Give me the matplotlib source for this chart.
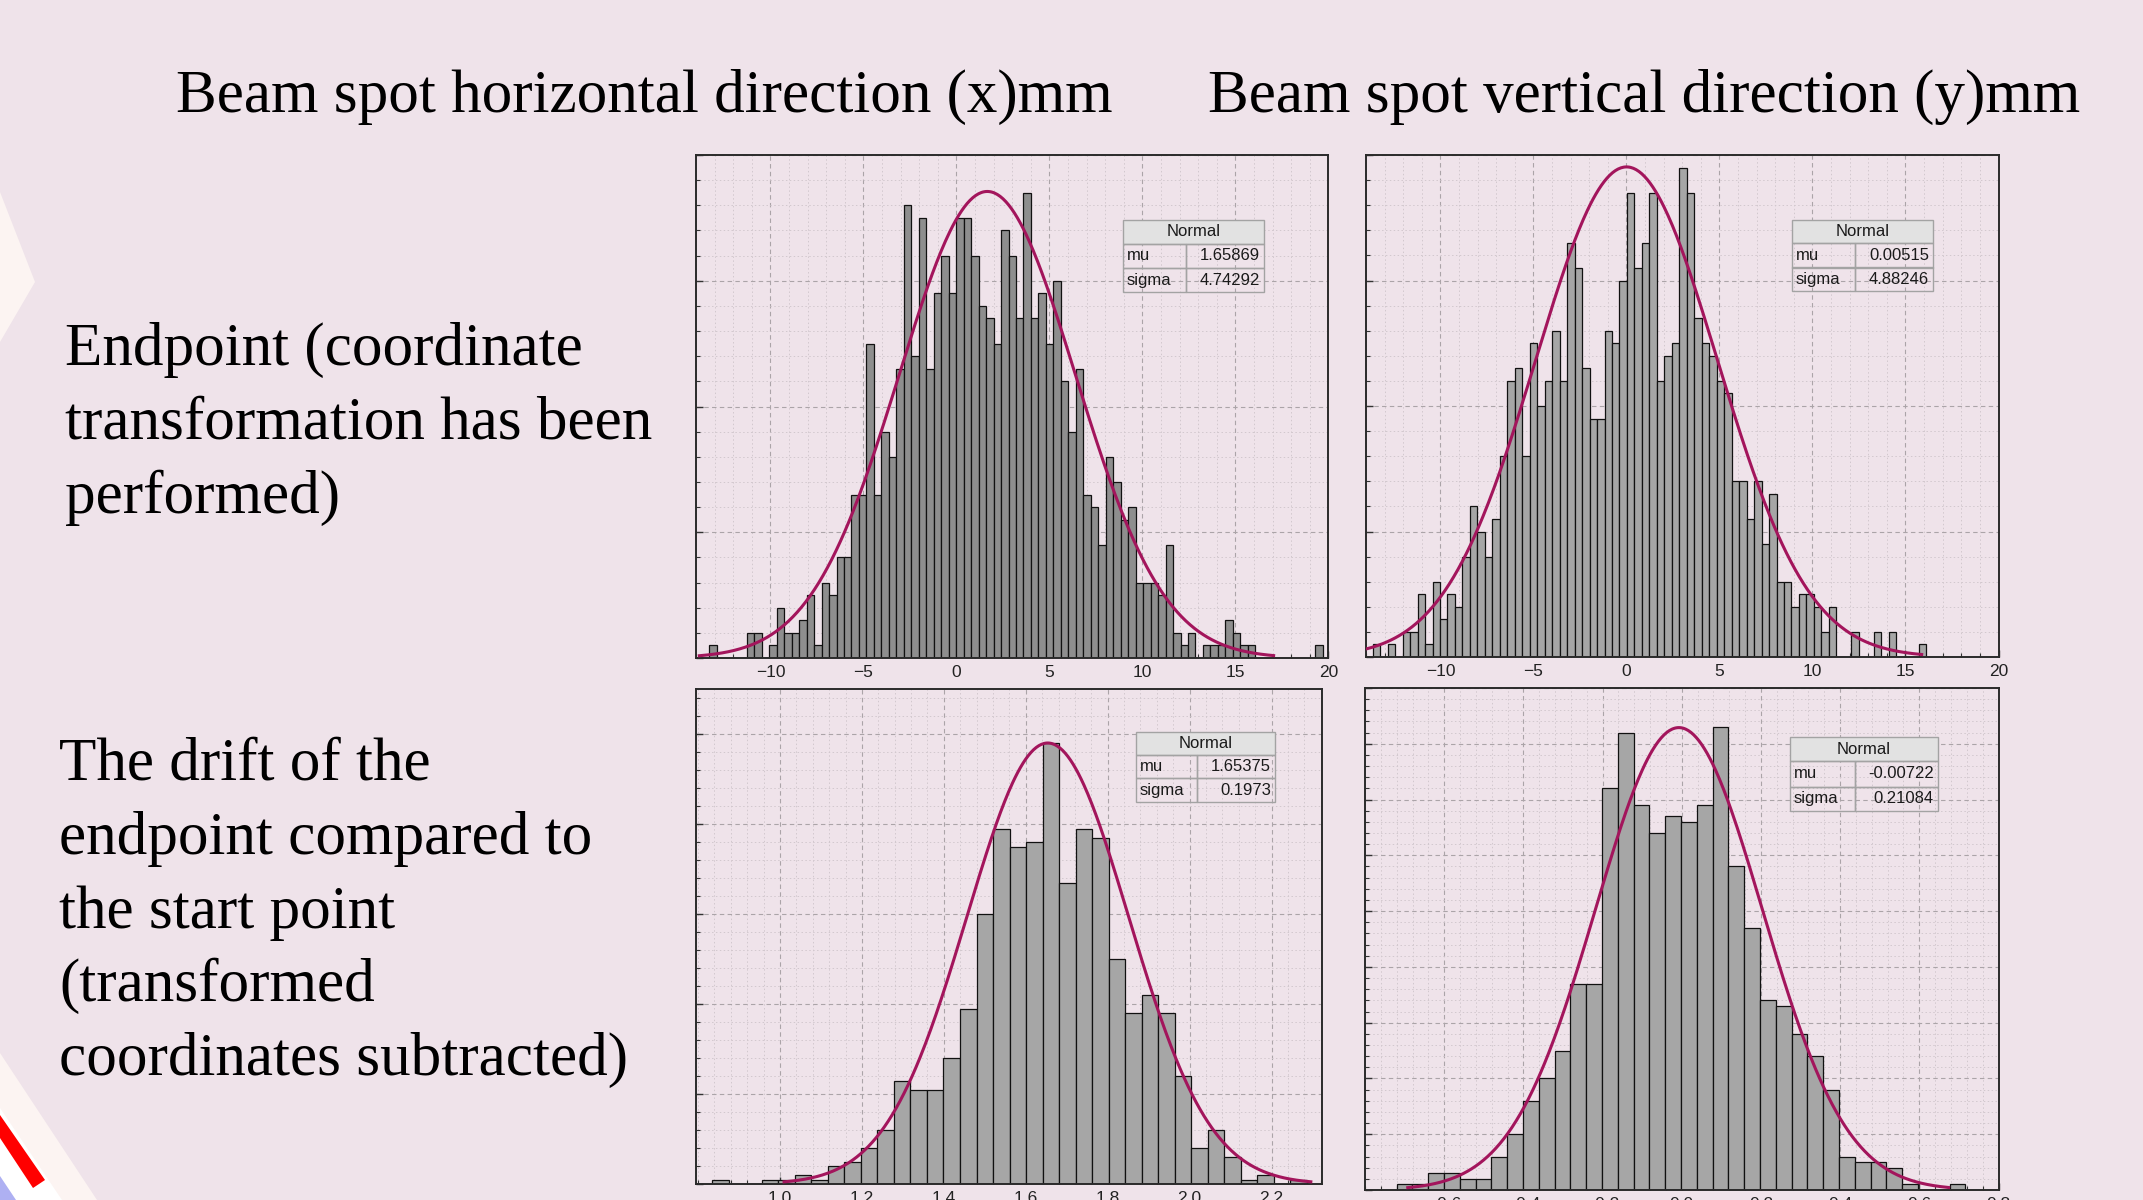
import numpy as np
import matplotlib
matplotlib.use("Agg")
import matplotlib.pyplot as plt
from matplotlib.patches import Polygon, Rectangle
from matplotlib.ticker import MultipleLocator, FixedLocator

# ---------------- data ----------------
# Panel 1: endpoint, horizontal (x)
x_end_counts = [1, 0, 0, 0, 0, 2, 2, 0, 1, 4, 2, 2, 3, 5, 1, 6, 5, 8, 8, 13,
                13, 25, 13, 18, 16, 23, 36, 24, 35, 23, 29, 32, 29, 35, 35, 32, 28, 27, 25, 34,
                32, 27, 37, 27, 29, 25, 30, 22, 18, 23, 13, 12, 9, 16, 14, 11, 12, 6, 6, 6,
                5, 9, 2, 1, 2, 0, 1, 1, 1, 3, 2, 1, 1, 0, 0, 0, 0, 0, 0, 0, 0, 1]
x_end_bin_start, x_end_bin_width = -13.28, 0.402
x_end_mu, x_end_sigma = 1.65869, 4.74292
x_end_curve_peak, x_end_curve_range = 37.1, (-13.82, 17.05)

# Panel 2: endpoint, vertical (y)
y_end_counts = [1, 0, 1, 0, 2, 2, 5, 1, 6, 3, 5, 4, 8, 12, 10, 8, 11, 16, 22, 23,
                16, 25, 20, 22, 26, 22, 33, 31, 23, 19, 19, 26, 25, 30, 37, 31, 33, 37, 22, 24,
                25, 39, 37, 27, 25, 24, 22, 21, 14, 14, 11, 14, 9, 13, 6, 6, 4, 5, 5, 4,
                2, 4, 0, 0, 2, 0, 0, 2, 0, 2, 0, 0, 0, 1]
y_end_bin_start, y_end_bin_width = -13.64, 0.402
y_end_mu, y_end_sigma = 0.00515, 4.88246
y_end_curve_peak, y_end_curve_range = 39.05, (-14.0, 15.87)

# Panel 3: drift, horizontal (x)
x_drift_counts = [1, 0, 0, 1, 1, 2, 1, 4, 5, 8, 12, 23, 21, 21, 28, 39, 60, 79, 75, 76,
                  98, 67, 79, 77, 50, 38, 42, 38, 24, 8, 12, 6, 1, 2, 0, 1]
x_drift_bin_start, x_drift_bin_width = 0.835, 0.0403
x_drift_mu, x_drift_sigma = 1.65375, 0.1973
x_drift_curve_peak, x_drift_curve_range = 98.0, (1.01, 2.296)

# Panel 4: drift, vertical (y)
y_drift_counts = [1, 1, 3, 3, 2, 2, 6, 10, 16, 20, 25, 37, 37, 72, 82, 69, 64, 67, 66, 69,
                  83, 58, 47, 34, 33, 28, 24, 18, 6, 5, 5, 4, 1, 0, 0, 1]
y_drift_bin_start, y_drift_bin_width = -0.720, 0.0399
y_drift_mu, y_drift_sigma = -0.00722, 0.21084
y_drift_curve_peak, y_drift_curve_range = 82.9, (-0.692, 0.674)

# tick label values
top_xticks = [-10, -5, 0, 5, 10, 15, 20]
x_drift_xticks = [1.0, 1.2, 1.4, 1.6, 1.8, 2.0, 2.2]
y_drift_xticks = [-0.6, -0.4, -0.2, 0.0, 0.2, 0.4, 0.6, 0.8]

legend_values = [("1.65869", "4.74292"), ("0.00515", "4.88246"),
                 ("1.65375", "0.1973"), ("-0.00722", "0.21084")]

col_titles = ["Beam spot horizontal direction (x)mm", "Beam spot vertical direction (y)mm"]
row_label_1 = ["Endpoint (coordinate", "transformation has been", "performed)"]
row_label_2 = ["The drift of the", "endpoint compared to", "the start point",
               "(transformed", "coordinates subtracted)"]

# ---------------- figure ----------------
W, H = 2143, 1200
BG = "#EFE3EA"
fig = plt.figure(figsize=(W / 100, H / 100), dpi=100, facecolor=BG)


def fx(x):
    return x / W


def fy(y):
    return 1 - y / H


SERIF = ["Liberation Serif", "DejaVu Serif"]
SANS = ["Liberation Sans", "DejaVu Sans"]


def poly(pts, color):
    fig.add_artist(Polygon([(fx(x), fy(y)) for x, y in pts], closed=True,
                           transform=fig.transFigure, facecolor=color,
                           edgecolor='none', zorder=0))


# slide decorations
poly([(0, 192), (35, 282), (0, 342)], "#FCF4F2")
poly([(0, 1053), (97, 1200), (0, 1200)], "#FCF4F2")
poly([(0, 1108), (62, 1200), (0, 1200)], "#FFFFFF")
poly([(0, 1115), (45, 1180), (33, 1188), (0, 1138)], "#FF0000")
poly([(0, 1176), (16, 1200), (0, 1200)], "#AEB0F2")

# slide text
fig.text(fx(176), fy(112), col_titles[0], family=SERIF, fontsize=44, va='baseline', ha='left')
fig.text(fx(1208), fy(112), col_titles[1], family=SERIF, fontsize=44, va='baseline', ha='left')
for i, s in enumerate(row_label_1):
    fig.text(fx(65), fy(365 + i * 73.8), s, family=SERIF, fontsize=44, va='baseline', ha='left')
for i, s in enumerate(row_label_2):
    fig.text(fx(59), fy(780 + i * 73.8), s, family=SERIF, fontsize=44, va='baseline', ha='left')

# axes (pixel boxes: x0, y0, x1, y1)
boxes = [(696, 155, 1328.5, 658), (1366, 155, 1998.5, 657),
         (696, 689, 1322.3, 1184), (1365, 688, 1998.5, 1190)]
axes = []
for (x0, y0, x1, y1) in boxes:
    ax = fig.add_axes([fx(x0), fy(y1), (x1 - x0) / W, (y1 - y0) / H])
    axes.append(ax)

panels = [
    (x_end_counts, x_end_bin_start, x_end_bin_width, x_end_mu, x_end_sigma,
     x_end_curve_peak, x_end_curve_range, (-14, 20), (0, 40), top_xticks, "%d", 1, 10, 2, "#8E8E8E"),
    (y_end_counts, y_end_bin_start, y_end_bin_width, y_end_mu, y_end_sigma,
     y_end_curve_peak, y_end_curve_range, (-14, 20), (0, 40), top_xticks, "%d", 1, 10, 2, "#A6A6A6"),
    (x_drift_counts, x_drift_bin_start, x_drift_bin_width, x_drift_mu, x_drift_sigma,
     x_drift_curve_peak, x_drift_curve_range, (0.795, 2.324), (0, 110), x_drift_xticks, "%.1f", 0.04, 20, 4, "#A6A6A6"),
    (y_drift_counts, y_drift_bin_start, y_drift_bin_width, y_drift_mu, y_drift_sigma,
     y_drift_curve_peak, y_drift_curve_range, (-0.8, 0.8), (0, 90), y_drift_xticks, "%.1f", 0.04, 10, 2, "#A6A6A6"),
]

for ax, p in zip(axes, panels):
    (counts, b0, bw, mu, sig, peak, crange, xlim, ylim, xt, fmt, xminor, ymaj, ymin, fc) = p
    ax.set_facecolor(BG)
    counts = np.asarray(counts, dtype=float)
    edges = b0 + bw * np.arange(len(counts))
    m = counts > 0
    ax.bar(edges[m], counts[m], width=bw, align='edge', color=fc,
           edgecolor='#111111', linewidth=0.9, zorder=2)
    xc = np.linspace(crange[0], crange[1], 400)
    ax.plot(xc, peak * np.exp(-0.5 * ((xc - mu) / sig) ** 2), color='#A3155C',
            lw=2.2, zorder=3)
    ax.set_xlim(*xlim)
    ax.set_ylim(*ylim)
    ax.xaxis.set_major_locator(FixedLocator(xt))
    ax.set_xticklabels([(fmt % v).replace("-", "\u2212") for v in xt])
    ax.xaxis.set_minor_locator(MultipleLocator(xminor))
    ax.yaxis.set_major_locator(MultipleLocator(ymaj))
    ax.yaxis.set_minor_locator(MultipleLocator(ymin))
    ax.grid(which='major', color='#ABA4A8', ls=(0, (4, 3)), lw=0.8)
    ax.grid(which='minor', color='#D2C8CE', ls=(0, (1.5, 2.5)), lw=0.7)
    ax.set_axisbelow(True)
    ax.tick_params(which='both', direction='in', top=False, right=False,
                   labelleft=False, colors='#333333')
    ax.tick_params(which='major', length=5, width=1, labelsize=12.5, pad=5,
                   labelcolor='#222222')
    ax.tick_params(which='minor', length=3, width=0.8)
    for lab in ax.get_xticklabels():
        lab.set_family(SANS)
    for s in ax.spines.values():
        s.set_color('#2A2A2A')
        s.set_linewidth(1.4)

# legend tables (pixel coords: x0, x_div, x1, y0, y_head, y_mu, y1)
tables = [(1123, 1186, 1264, 220, 243.6, 268.3, 292),
          (1792, 1855, 1933, 219.6, 243.2, 267.5, 291),
          (1136, 1197, 1275, 731.7, 755, 778.3, 802.3),
          (1790, 1855, 1938, 737.3, 761, 786.7, 811)]


def rect(x0, y0, x1, y1, fcol):
    fig.add_artist(Rectangle((fx(x0), fy(y1)), (x1 - x0) / W, (y1 - y0) / H,
                             transform=fig.transFigure, facecolor=fcol,
                             edgecolor='#A3A3A3', lw=1.0, zorder=5))


for (x0, xd, x1, y0, yh, ym, y1), (mu_s, sg_s) in zip(tables, legend_values):
    rect(x0, y0, x1, yh, '#E2E2E2')
    rect(x0, yh, xd, ym, 'none')
    rect(xd, yh, x1, ym, 'none')
    rect(x0, ym, xd, y1, 'none')
    rect(xd, ym, x1, y1, 'none')
    kw = dict(family=SANS, fontsize=12, color='#1A1A1A', va='center', zorder=6)
    fig.text(fx((x0 + x1) / 2), fy((y0 + yh) / 2), "Normal", ha='center', **kw)
    fig.text(fx(x0 + 4), fy((yh + ym) / 2), "mu", ha='left', **kw)
    fig.text(fx(x0 + 4), fy((ym + y1) / 2), "sigma", ha='left', **kw)
    fig.text(fx(x1 - 4), fy((yh + ym) / 2), mu_s, ha='right', **kw)
    fig.text(fx(x1 - 4), fy((ym + y1) / 2), sg_s, ha='right', **kw)

fig.savefig("out.png", dpi=100, facecolor=BG)
